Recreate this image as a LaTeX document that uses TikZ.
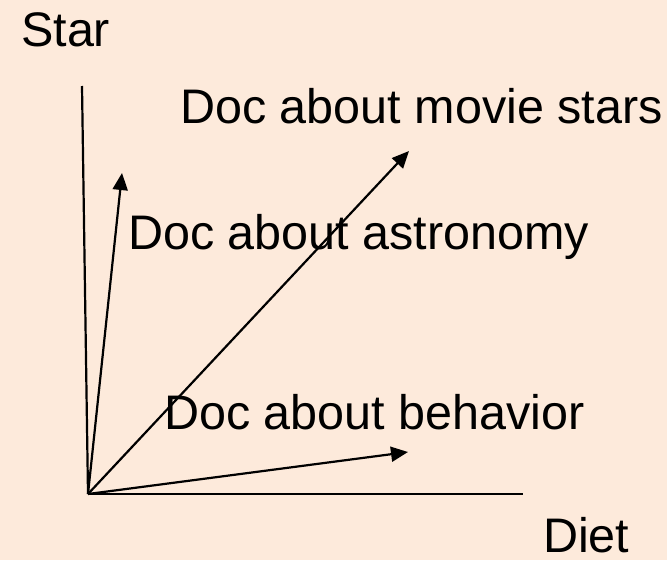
\documentclass[tikz,border=0pt]{standalone}
\usepackage{fontspec}
\setmainfont{Liberation Sans}
\usetikzlibrary{arrows.meta}
\definecolor{peach}{RGB}{253,234,219}
\tikzset{
  axisline/.style={draw=black,line width=2.2pt},
  docvector/.style={draw=black,line width=2.2pt,-{Triangle[length=17pt,width=15pt]}},
  vlabel/.style={anchor=base west,inner sep=0pt,font=\fontsize{48.5}{58}\selectfont}
}
\begin{document}
\begin{tikzpicture}[x=1pt,y=-1pt]
\fill[peach] (0,0) rectangle (667,560);
\useasboundingbox (0,0) rectangle (667,560);
\coordinate (origin) at (88,494);
\coordinate (startop) at (82,86);
\coordinate (dietend) at (523,494);
\coordinate (astro) at (122,173);
\coordinate (movie) at (409,151);
\coordinate (behav) at (408,452);
\draw[axisline] (origin) -- (startop);
\draw[axisline] (origin) -- (dietend);
\draw[docvector] (origin) -- (astro);
\draw[docvector] (origin) -- (movie);
\draw[docvector] (origin) -- (behav);
\node[vlabel] (starlbl) at (21,46) {Star};
\node[vlabel] (dietlbl) at (543,552) {Diet};
\node[vlabel] (movielbl) at (180,123) {Doc about movie stars};
\node[vlabel] (astrolbl) at (128,249) {Doc about astronomy};
\node[vlabel] (behavlbl) at (164,429) {Doc about behavior};
\end{tikzpicture}
\end{document}
